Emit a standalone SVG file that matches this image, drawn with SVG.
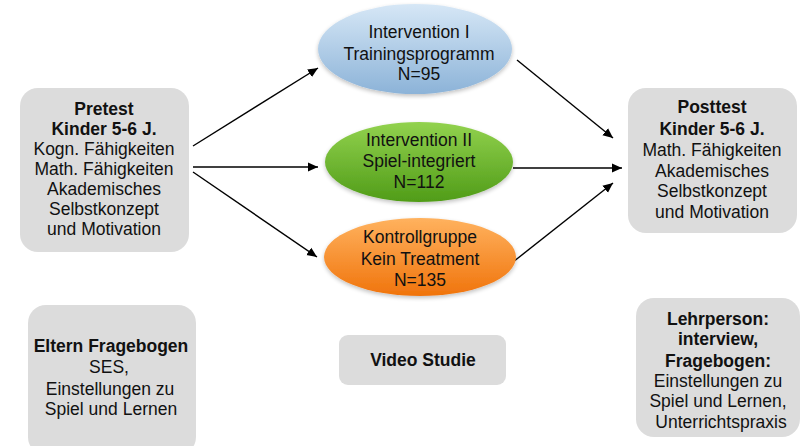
<svg xmlns="http://www.w3.org/2000/svg" width="805" height="446" viewBox="0 0 805 446">
<style>
text{font-family:"Liberation Sans",Arial,sans-serif;font-size:17.5px;fill:#111;text-anchor:middle}
.b{font-weight:bold}
.box{fill:#dcdcdc}
.con{stroke:#000;stroke-width:1.4;fill:none;marker-end:url(#ah)}
</style>
<defs>
<marker id="ah" viewBox="0 0 10 10" refX="10" refY="5" markerWidth="10" markerHeight="10" markerUnits="userSpaceOnUse" orient="auto">
<path d="M0,0.5 L10,5 L0,9.5 z" fill="#000"/>
</marker>
<linearGradient id="gBlue" x1="0" y1="0" x2="0" y2="1">
<stop offset="0" stop-color="#d6e7f6"/><stop offset="1" stop-color="#8cb3d8"/>
</linearGradient>
<linearGradient id="gGreen" x1="0" y1="0" x2="0" y2="1">
<stop offset="0" stop-color="#92d24e"/><stop offset="1" stop-color="#509c18"/>
</linearGradient>
<linearGradient id="gOrange" x1="0" y1="0" x2="0" y2="1">
<stop offset="0" stop-color="#ffb25e"/><stop offset="1" stop-color="#f0740c"/>
</linearGradient>
<filter id="sh" x="-10%" y="-10%" width="120%" height="130%">
<feGaussianBlur in="SourceAlpha" stdDeviation="2"/><feOffset dy="2"/>
<feComponentTransfer><feFuncA type="linear" slope="0.25"/></feComponentTransfer>
<feMerge><feMergeNode/><feMergeNode in="SourceGraphic"/></feMerge>
</filter>
</defs>
<rect width="805" height="446" fill="#fff"/>

<g id="connectors">
<line class="con" x1="193" y1="146" x2="318" y2="68"/>
<line class="con" x1="193" y1="167" x2="318" y2="167"/>
<line class="con" x1="193" y1="172" x2="317" y2="257"/>
<line class="con" x1="517" y1="60" x2="613" y2="138"/>
<line class="con" x1="513" y1="168" x2="622" y2="168"/>
<line class="con" x1="513" y1="262" x2="613" y2="183"/>
</g>

<g id="pretest">
<rect class="box" x="20" y="88" width="169" height="164" rx="18"/>
<text x="104" y="115" class="b">Pretest</text>
<text x="104" y="135" class="b">Kinder 5-6 J.</text>
<text x="104" y="155">Kogn. Fähigkeiten</text>
<text x="104" y="175">Math. Fähigkeiten</text>
<text x="104" y="195">Akademisches</text>
<text x="104" y="215">Selbstkonzept</text>
<text x="104" y="235">und Motivation</text>
</g>

<g id="intervention1">
<ellipse cx="415" cy="49" rx="97" ry="45" fill="url(#gBlue)" filter="url(#sh)"/>
<text x="419" y="38">Intervention I</text>
<text x="419" y="60">Trainingsprogramm</text>
<text x="419" y="80">N=95</text>
</g>

<g id="intervention2">
<ellipse cx="419" cy="162" rx="94" ry="40" fill="url(#gGreen)" filter="url(#sh)"/>
<text x="419" y="146">Intervention II</text>
<text x="419" y="167">Spiel-integriert</text>
<text x="419" y="188">N=112</text>
</g>

<g id="kontrollgruppe">
<ellipse cx="420" cy="257" rx="96" ry="39" fill="url(#gOrange)" filter="url(#sh)"/>
<text x="420" y="243">Kontrollgruppe</text>
<text x="420" y="265">Kein Treatment</text>
<text x="420" y="286">N=135</text>
</g>

<g id="posttest">
<rect class="box" x="628" y="88" width="169" height="145" rx="18"/>
<text x="712" y="113" class="b">Posttest</text>
<text x="712" y="135" class="b">Kinder 5-6 J.</text>
<text x="712" y="156">Math. Fähigkeiten</text>
<text x="712" y="177">Akademisches</text>
<text x="712" y="197">Selbstkonzept</text>
<text x="712" y="218">und Motivation</text>
</g>

<g id="eltern">
<rect class="box" x="28" y="305" width="168" height="150" rx="18"/>
<text x="111" y="352" class="b">Eltern Fragebogen</text>
<text x="109" y="373">SES,</text>
<text x="110" y="395">Einstellungen zu</text>
<text x="111" y="415">Spiel und Lernen</text>
</g>

<g id="video">
<rect class="box" x="339" y="335" width="167" height="50" rx="9"/>
<text x="423" y="366" class="b">Video Studie</text>
</g>

<g id="lehrperson">
<rect class="box" x="636" y="298" width="164" height="139" rx="18"/>
<text x="718" y="325" class="b">Lehrperson:</text>
<text x="718" y="345" class="b">interview,</text>
<text x="718" y="367" class="b">Fragebogen:</text>
<text x="718" y="387">Einstellungen zu</text>
<text x="718" y="407">Spiel und Lernen,</text>
<text x="721" y="428">Unterrichtspraxis</text>
</g>
</svg>
